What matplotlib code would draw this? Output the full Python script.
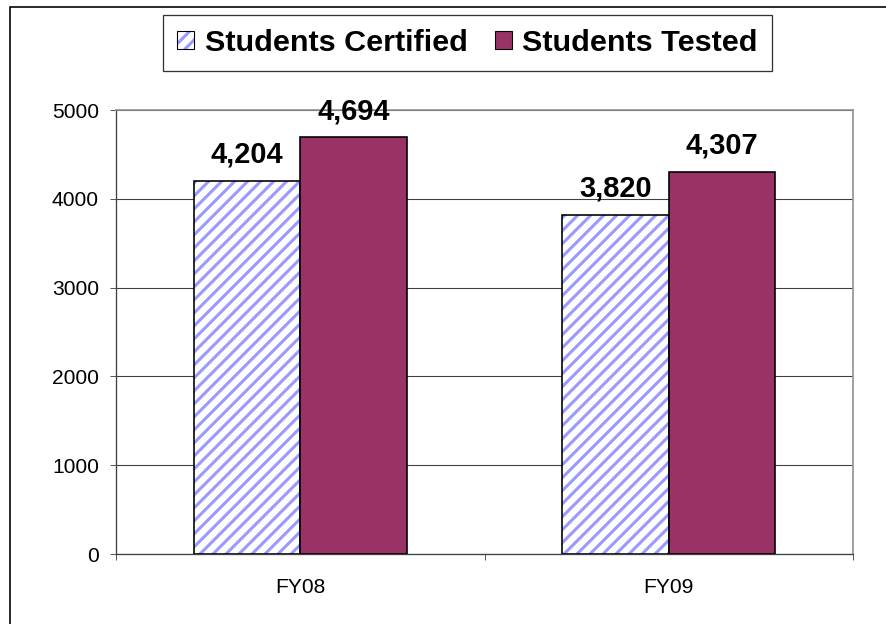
import numpy as np
import matplotlib.pyplot as plt
from matplotlib.patches import Rectangle, Patch

categories = ['FY08', 'FY09']
certified = [4204, 3820]
tested = [4694, 4307]
yticks = [0, 1000, 2000, 3000, 4000, 5000]

DPI = 78
def pt(px):
    return px * 72 / DPI

plt.rcParams['font.family'] = ['Liberation Sans', 'DejaVu Sans']
plt.rcParams['hatch.linewidth'] = 2.8

fig = plt.figure(figsize=(886 / DPI, 624 / DPI), dpi=DPI)
fig.patch.set_facecolor('white')

# outer chart border (runs off the right and bottom edges)
fig.patches.append(Rectangle((10 / 886, -0.2), 1.2, 1.2 - 7 / 624,
                             transform=fig.transFigure, fill=False,
                             edgecolor='black', lw=1.5, zorder=0))

ax = fig.add_axes([116 / 886, 1 - 554 / 624, (853 - 116) / 886, (554 - 110) / 624])

x = np.arange(len(categories))
w = 0.289
hatch_color = '#9999ff'
maroon = '#993366'

ax.bar(x - w / 2, certified, w, facecolor='white', edgecolor=hatch_color,
       hatch='//', lw=0, zorder=3)
ax.bar(x - w / 2, certified, w, fill=False, edgecolor='black', lw=1.5, zorder=4)
ax.bar(x + w / 2, tested, w, color=maroon, edgecolor='black', lw=1.5, zorder=4)

for xi, v in zip(x - w / 2, certified):
    ax.annotate(f'{v:,}', (xi, v), xytext=(0, pt(12)), textcoords='offset points',
                ha='center', va='bottom', fontsize=pt(29), fontweight='bold')
for xi, v in zip(x + w / 2, tested):
    ax.annotate(f'{v:,}', (xi, v), xytext=(0, pt(12)), textcoords='offset points',
                ha='center', va='bottom', fontsize=pt(29), fontweight='bold')

ax.set_xlim(-0.5, 1.5)
ax.set_ylim(0, 5000)
ax.set_yticks(yticks)
ax.set_yticklabels([str(t) for t in yticks], fontsize=pt(21))
ax.yaxis.grid(True, color='#404040', lw=1)
ax.set_axisbelow(True)

ax.set_xticks([-0.5, 0.5, 1.5])
ax.set_xticklabels([])
ax.set_xticks(x, minor=True)
ax.set_xticklabels(categories, minor=True, fontsize=pt(21))
ax.tick_params(axis='x', which='minor', length=0, pad=pt(24))
ax.tick_params(axis='x', which='major', length=pt(6), color='#404040')
ax.tick_params(axis='y', length=pt(6), color='#404040', pad=pt(11))

for s in ['top', 'right']:
    ax.spines[s].set_color('#909090')
    ax.spines[s].set_linewidth(1.5)
for s in ['left', 'bottom']:
    ax.spines[s].set_color('#404040')
    ax.spines[s].set_linewidth(1.2)

h_cert = (Patch(facecolor='white', edgecolor=hatch_color, hatch='//', lw=0),
          Patch(fill=False, edgecolor='black', lw=1))
h_test = Patch(facecolor=maroon, edgecolor='black', lw=1)
leg = fig.legend([h_cert, h_test], ['Students Certified', 'Students Tested'],
                 loc='center', bbox_to_anchor=(467.5 / 886, 1 - 43 / 624),
                 ncol=2, frameon=True, fancybox=False, edgecolor='black',
                 prop={'size': pt(30.5), 'weight': 'bold'},
                 handlelength=0.55, handleheight=0.55, handletextpad=0.35,
                 columnspacing=0.9, borderpad=0.45, borderaxespad=0)
leg.get_frame().set_linewidth(1.2)

fig.savefig('out.png', dpi=DPI)
